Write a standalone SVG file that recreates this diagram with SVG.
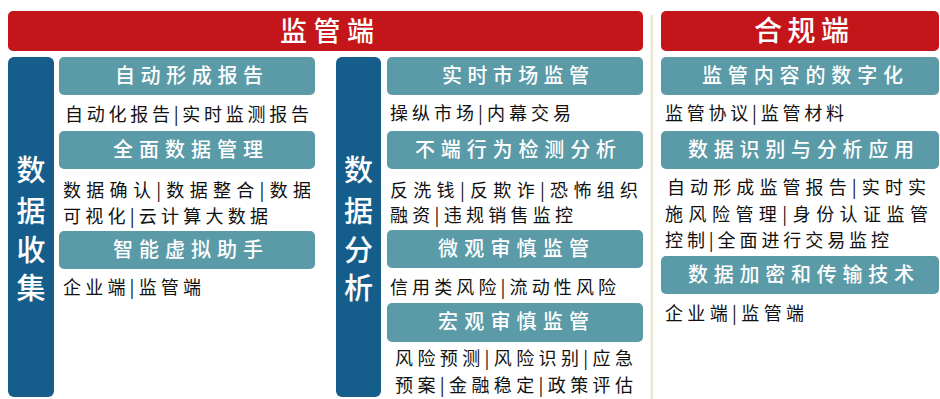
<svg xmlns="http://www.w3.org/2000/svg" width="940" height="399" viewBox="0 0 940 399">
<style>
.red{fill:#C4161A}
.bar{fill:#155E8C}
.box{fill:#5B9AA7}
.ban{font-family:"Noto Sans CJK SC",sans-serif;font-size:27px;fill:#fff;font-weight:500}
.vt{font-family:"Noto Sans CJK SC",sans-serif;font-size:29px;fill:#fff;text-anchor:middle;font-weight:500}
.ttl{font-family:"Noto Sans CJK SC",sans-serif;font-size:20px;fill:#fff;font-weight:500}
.txt{font-family:"Noto Sans CJK SC",sans-serif;font-size:18px;fill:#111}
</style>
<rect width="940" height="399" fill="#fff"/>
<g id="divider"><rect x="650.5" y="15" width="2.5" height="384" fill="#ECE7D3"/></g>
<g id="banner-jianguan"><rect class="red" x="8" y="11" width="635" height="40" rx="5"/><text class="ban" x="280" y="41" textLength="94" lengthAdjust="spacing">监管端</text></g>
<g id="banner-hegui"><rect class="red" x="661" y="11" width="278" height="40" rx="5"/><text class="ban" x="754" y="41" textLength="95" lengthAdjust="spacing" style="font-size:28px">合规端</text></g>
<g id="col-collect">
<rect class="bar" x="8" y="57" width="46" height="340" rx="6"/>
<text class="vt" x="31" y="181">数</text><text class="vt" x="31" y="222">据</text><text class="vt" x="31" y="261">收</text><text class="vt" x="31" y="299">集</text>
</g>
<g id="n1"><rect class="box" x="59" y="57" width="256" height="38" rx="5"/><text class="ttl" x="115" y="83" textLength="148" lengthAdjust="spacing">自动形成报告</text><text class="txt" x="65" y="121" textLength="244" lengthAdjust="spacing">自动化报告|实时监测报告</text></g>
<g id="n2"><rect class="box" x="59" y="131" width="256" height="38" rx="5"/><text class="ttl" x="113" y="157" textLength="150" lengthAdjust="spacing">全面数据管理</text><text class="txt" x="63" y="196.5" textLength="248" lengthAdjust="spacing">数据确认|数据整合|数据</text><text class="txt" x="63" y="223" textLength="205" lengthAdjust="spacing">可视化|云计算大数据</text></g>
<g id="n3"><rect class="box" x="59" y="231" width="256" height="38" rx="5"/><text class="ttl" x="113" y="257" textLength="150" lengthAdjust="spacing">智能虚拟助手</text><text class="txt" x="63" y="294" textLength="138" lengthAdjust="spacing">企业端|监管端</text></g>
<g id="col-analysis">
<rect class="bar" x="336" y="57" width="45" height="340" rx="6"/>
<text class="vt" x="358.5" y="181">数</text><text class="vt" x="358.5" y="222">据</text><text class="vt" x="358.5" y="261">分</text><text class="vt" x="358.5" y="299">析</text>
</g>
<g id="n4"><rect class="box" x="387" y="57" width="256" height="38" rx="5"/><text class="ttl" x="442" y="83" textLength="147" lengthAdjust="spacing">实时市场监管</text><text class="txt" x="390" y="119.5" textLength="181" lengthAdjust="spacing">操纵市场|内幕交易</text></g>
<g id="n5"><rect class="box" x="387" y="131" width="256" height="38" rx="5"/><text class="ttl" x="415" y="157" textLength="201" lengthAdjust="spacing">不端行为检测分析</text><text class="txt" x="390" y="196.5" textLength="248" lengthAdjust="spacing">反洗钱|反欺诈|恐怖组织</text><text class="txt" x="390" y="222" textLength="183" lengthAdjust="spacing">融资|违规销售监控</text></g>
<g id="n6"><rect class="box" x="387" y="230" width="256" height="38" rx="5"/><text class="ttl" x="438" y="256" textLength="151" lengthAdjust="spacing">微观审慎监管</text><text class="txt" x="390" y="294" textLength="226" lengthAdjust="spacing">信用类风险|流动性风险</text></g>
<g id="n7"><rect class="box" x="387" y="303" width="256" height="39" rx="5"/><text class="ttl" x="438" y="329" textLength="151" lengthAdjust="spacing">宏观审慎监管</text><text class="txt" x="395" y="365" textLength="238" lengthAdjust="spacing">风险预测|风险识别|应急</text><text class="txt" x="395" y="392" textLength="238" lengthAdjust="spacing">预案|金融稳定|政策评估</text></g>
<g id="n8"><rect class="box" x="661" y="57" width="278" height="38" rx="5"/><text class="ttl" x="702" y="83" textLength="201" lengthAdjust="spacing">监管内容的数字化</text><text class="txt" x="665" y="119.5" textLength="179" lengthAdjust="spacing">监管协议|监管材料</text></g>
<g id="n9"><rect class="box" x="661" y="131" width="278" height="38" rx="5"/><text class="ttl" x="688" y="157" textLength="226" lengthAdjust="spacing">数据识别与分析应用</text><text class="txt" x="667" y="193.5" textLength="259" lengthAdjust="spacing">自动形成监管报告|实时实</text><text class="txt" x="665" y="221" textLength="263" lengthAdjust="spacing">施风险管理|身份认证监管</text><text class="txt" x="665" y="246.5" textLength="224" lengthAdjust="spacing">控制|全面进行交易监控</text></g>
<g id="n10"><rect class="box" x="661" y="256" width="278" height="38" rx="5"/><text class="ttl" x="688" y="282" textLength="226" lengthAdjust="spacing">数据加密和传输技术</text><text class="txt" x="665" y="320" textLength="139" lengthAdjust="spacing">企业端|监管端</text></g>
<g id="connectors"></g>
</svg>
